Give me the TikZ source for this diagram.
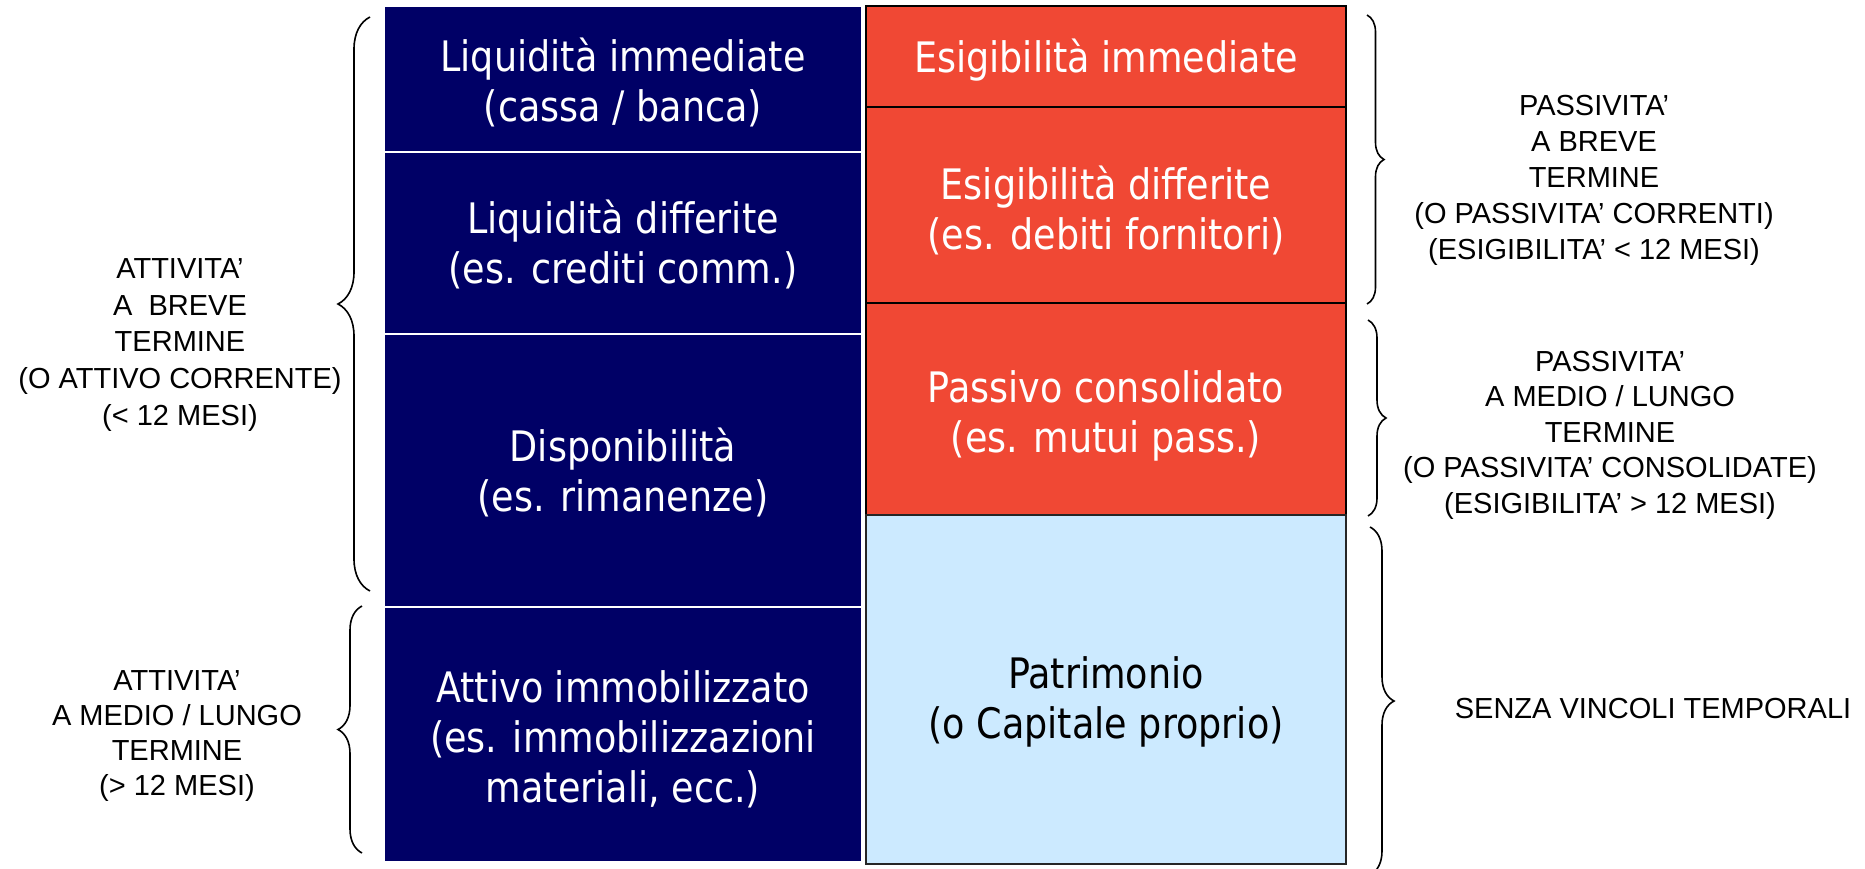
\documentclass[tikz,border=0pt]{standalone}
\usepackage{fontspec}
\usetikzlibrary{decorations.pathreplacing}
\newfontfamily\boxfont[FakeStretch=0.87]{DejaVu Sans}
\newfontfamily\lblfont{Liberation Sans}
\definecolor{navy}{RGB}{0,0,102}
\definecolor{redbox}{RGB}{240,72,52}
\definecolor{lightbox}{RGB}{204,234,255}
\begin{document}
\begin{tikzpicture}[x=1pt,y=-1pt,
  cell/.style={rectangle, inner sep=0pt, outer sep=0pt},
  celltext/.style={inner sep=0pt, align=center, font=\boxfont\fontsize{42}{50}\selectfont},
  assetbox/.style={cell, fill=navy, draw=white, line width=2.5pt, minimum width=478pt},
  liabbox/.style={cell, fill=redbox, draw=black, line width=1.8pt, minimum width=480pt},
  equitybox/.style={cell, fill=lightbox, draw=black!85, line width=2pt, minimum width=480pt},
  lbl/.style={align=center, inner sep=0pt, font=\lblfont\fontsize{29}{36.7}\selectfont},
  bracepath/.style={decorate, decoration={brace, amplitude=#1}, line width=1.6pt, draw=black},
]
\fill[white] (0,0) rectangle (1865,868);
\useasboundingbox (0,0) rectangle (1865,868);
\clip (0,0) rectangle (1865,868);

% assets column
\node[assetbox, minimum height=146pt] (b1) at (623,79) {};
\node[assetbox, minimum height=182pt] (b2) at (623,243) {};
\node[assetbox, minimum height=273pt] (b3) at (623,470.5) {};
\node[assetbox, minimum height=255pt] (b4) at (623,734.5) {};
\node[celltext, text=white] (t1) at ([yshift=-3pt]b1.center) {Liquidità immediate\\(cassa / banca)};
\node[celltext, text=white] (t2) at ([yshift=-1pt]b2.center) {Liquidità differite\\(es. crediti comm.)};
\node[celltext, text=white] (t3) at ([yshift=-2pt]b3.center) {Disponibilità\\(es. rimanenze)};
\node[celltext, text=white] (t4) at ([yshift=-5pt]b4.center) {Attivo immobilizzato\\(es. immobilizzazioni\\materiali, ecc.)};

% liabilities column
\node[liabbox, minimum height=101pt] (r1) at (1106,56.5) {};
\node[liabbox, minimum height=196pt] (r2) at (1106,205) {};
\node[liabbox, minimum height=212pt] (r3) at (1106,409) {};
\node[equitybox, minimum height=349pt] (eq) at (1106,689.5) {};
\node[celltext, text=white] (s1) at ([yshift=-4pt]r1.center) {Esigibilità immediate};
\node[celltext, text=white] (s2) at ([yshift=-5pt]r2.center) {Esigibilità differite\\(es. debiti fornitori)};
\node[celltext, text=white] (s3) at ([yshift=-7pt]r3.center) {Passivo consolidato\\(es. mutui pass.)};
\node[celltext, text=black] (s4) at ([yshift=-12pt]eq.center) {Patrimonio\\(o Capitale proprio)};

% left labels
\node[lbl] (ab) at (180,345) {ATTIVITA’\\A\ \ BREVE\\TERMINE\\(O ATTIVO CORRENTE)\\(< 12 MESI)};
\node[lbl, font=\lblfont\fontsize{29}{35}\selectfont] (am) at (177,736) {ATTIVITA’\\A MEDIO / LUNGO\\TERMINE\\(> 12 MESI)};

% right labels
\node[lbl, font=\lblfont\fontsize{29}{36}\selectfont] (pb) at (1594,180) {PASSIVITA’\\A BREVE\\TERMINE\\(O PASSIVITA’ CORRENTI)\\(ESIGIBILITA’ < 12 MESI)};
\node[lbl, font=\lblfont\fontsize{29}{35.5}\selectfont] (pm) at (1610,435) {PASSIVITA’\\A MEDIO / LUNGO\\TERMINE\\(O PASSIVITA’ CONSOLIDATE)\\(ESIGIBILITA’ > 12 MESI)};
\node[lbl] (sv) at (1653,709) {SENZA VINCOLI TEMPORALI};

% brace end points
\coordinate (l1t) at (370,17);   \coordinate (l1b) at (370,591);
\coordinate (l2t) at (362,606);  \coordinate (l2b) at (362,853);
\coordinate (q1t) at (1367,15);  \coordinate (q1b) at (1367,304);
\coordinate (q2t) at (1368,320); \coordinate (q2b) at (1368,516);
\coordinate (q3t) at (1370,527); \coordinate (q3b) at (1370,875);

\draw[bracepath=32] (l1b) -- (l1t);
\draw[bracepath=24] (l2b) -- (l2t);
\draw[bracepath=17] (q1t) -- (q1b);
\draw[bracepath=18] (q2t) -- (q2b);
\draw[bracepath=24] (q3t) -- (q3b);
\end{tikzpicture}
\end{document}
